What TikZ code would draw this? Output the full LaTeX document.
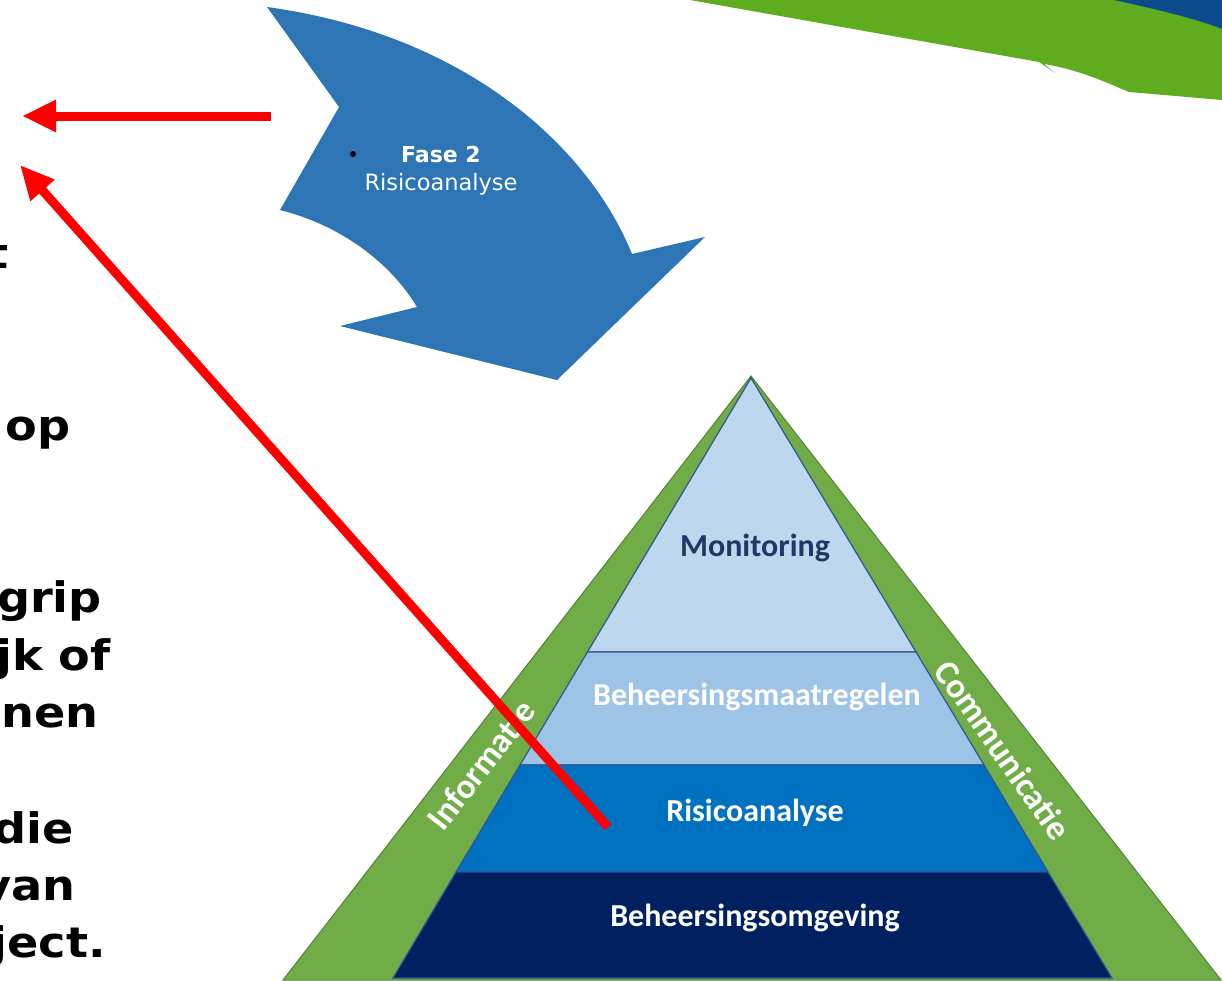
\documentclass[tikz,border=0pt]{standalone}
\usepackage{fontspec}
\setmainfont{DejaVu Sans}
\newfontfamily\calib{Carlito}
\newfontfamily\widebold[FakeStretch=1.1]{DejaVu Sans Bold}
\usetikzlibrary{arrows.meta}
\definecolor{swgreen}{HTML}{60AC1F}
\definecolor{swblue}{HTML}{0B4A8B}
\definecolor{arrowblue}{HTML}{2E75B6}
\definecolor{pgreen}{HTML}{70AD47}
\definecolor{pgreenline}{HTML}{548235}
\definecolor{lay1}{HTML}{BDD7EE}
\definecolor{lay2}{HTML}{9DC3E6}
\definecolor{lay3}{HTML}{0070C0}
\definecolor{lay4}{HTML}{002060}
\definecolor{layline}{HTML}{2F5597}
\definecolor{navytext}{HTML}{203864}
\tikzset{
  lefttext/.style={anchor=base east, inner sep=0pt, font=\widebold\fontsize{42}{48}\selectfont, text=black},
  layer/.style={draw=layline, line width=1.2pt},
  laylabel/.style={inner sep=0pt, font=\calib\bfseries\fontsize{32}{36}\selectfont, text=white},
  sidelabel/.style={inner sep=0pt, font=\calib\bfseries\fontsize{35}{38}\selectfont, text=white},
  redarrow/.style={draw=red, line width=9pt, -{Triangle[length=34pt,width=30pt]}}
}
\begin{document}
\begin{tikzpicture}[x=1pt,y=-1pt]
\useasboundingbox (0,0) rectangle (1222,980);
\begin{scope}
\clip (0,0) rectangle (1222,980);
\fill[white] (0,0) rectangle (1222,980);

% top right swoosh
\fill[swgreen] (690,0) -- (1039,62) -- (1055,73) -- (1044,64)
  .. controls (1080,70) and (1105,82) .. (1129,92) -- (1222,100) -- (1222,0) -- cycle;
\fill[swblue] (1114,0) .. controls (1160,10) and (1200,20) .. (1222,29) -- (1222,0) -- cycle;

% blue curved arrow
\fill[arrowblue] (267,7) -- (339,107) -- (280,210)
  .. controls (340,225) and (390,262) .. (417,307)
  -- (340,326) -- (557,380) -- (705,237) -- (632,254)
  .. controls (590,150) and (470,35) .. (267,7) -- cycle;
\fill[black] (353,154) circle (3);
\node[inner sep=0pt, font=\bfseries\fontsize{22}{26}\selectfont, text=white, anchor=base] (fase) at (441,162) {Fase 2};
\node[inner sep=0pt, font=\fontsize{22.5}{26}\selectfont, text=white, anchor=base] (risk) at (441,190) {Risicoanalyse};

% left text (clipped at left edge)
\node[lefttext] (l1) at (9,268) {t};
\node[lefttext] (l2) at (71,440) {op};
\node[lefttext] (l3) at (102,612) {grip};
\node[lefttext] (l4) at (111,670) {jk of};
\node[lefttext] (l5) at (99,727) {nen};
\node[lefttext] (l6) at (74,843) {die};
\node[lefttext] (l7) at (76,900) {van};
\node[lefttext] (l8) at (106,957) {ject.};

% pyramid outer
\filldraw[fill=pgreen, draw=pgreenline, line width=1pt] (751,376) -- (1221,980) -- (283,980) -- cycle;
\node[sidelabel, rotate=52] (info) at (481,765) {Informatie};
\node[sidelabel, rotate=-55] (comm) at (1003,750) {Communicatie};

% layers
\filldraw[layer, fill=lay1] (751,378) -- (916,652) -- (587.5,652) -- cycle;
\filldraw[layer, fill=lay2] (587.5,652) -- (916,652) -- (984,765) -- (520,765) -- cycle;
\filldraw[layer, fill=lay3] (520,765) -- (984,765) -- (1048,872) -- (456,872) -- cycle;
\filldraw[layer, fill=lay4] (456,872) -- (1048,872) -- (1112,978) -- (393,978) -- cycle;
\node[laylabel, text=navytext] (mon) at (755,548) {Monitoring};
\node[laylabel] (maat) at (757,697) {Beheersingsmaatregelen};
\node[laylabel] (ana) at (755,813) {Risicoanalyse};
\node[laylabel] (omg) at (755,918) {Beheersingsomgeving};

% red arrows
\coordinate (h0) at (271,116);
\coordinate (h1) at (22,116);
\coordinate (d0) at (608,827);
\coordinate (d1) at (20,165);
\draw[redarrow] (h0) -- (h1);
\draw[redarrow] (d0) -- (d1);
\end{scope}
\end{tikzpicture}
\end{document}
